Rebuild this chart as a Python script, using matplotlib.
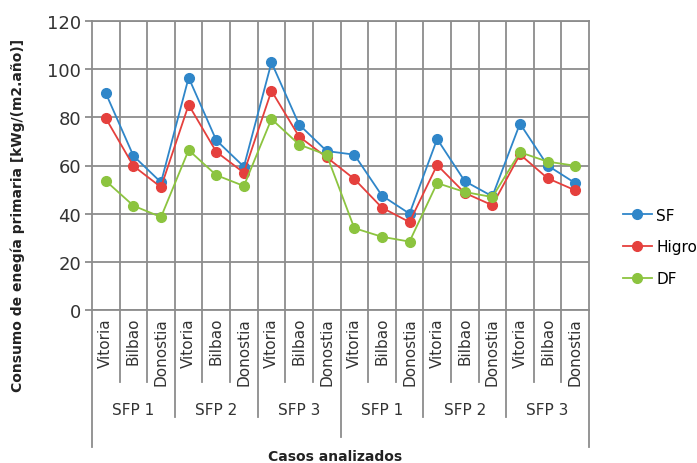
import matplotlib.pyplot as plt
from matplotlib.lines import Line2D

# DATA
cities = ['Vitoria', 'Bilbao', 'Donostia'] * 6
groups = ['SFP 1', 'SFP 2', 'SFP 3', 'SFP 1', 'SFP 2', 'SFP 3']

sf = [90, 64, 53, 96.5, 70.5, 59.5, 102.8, 77, 66,
      64.5, 47.5, 40, 71, 53.5, 47.2, 77.4, 60, 52.7]
higro = [79.6, 59.8, 51, 85.2, 65.7, 57, 91, 72, 63.4,
         54.4, 42.5, 36.5, 60.2, 48.6, 43.5, 64.6, 54.7, 49.7]
df = [53.6, 43.3, 38.6, 66.4, 56, 51.5, 79.3, 68.7, 64.4,
      34, 30.4, 28.4, 52.7, 49, 46.9, 65.5, 61.6, 59.9]

series = {'SF': (sf, '#2f86c9'), 'Higro': (higro, '#e5403d'), 'DF': (df, '#8cc43f')}

GRID = '#8c8c8c'
FONT = 'DejaVu Sans'
plt.rcParams['font.family'] = FONT

fig = plt.figure(figsize=(6.97, 4.64), dpi=100)
ax = fig.add_axes([92 / 697, 1 - 311 / 464, (589 - 92) / 697, (311 - 22) / 464])

n = len(cities)
x = [i + 0.5 for i in range(n)]
for name, (vals, col) in series.items():
    ax.plot(x, vals, color=col, lw=1.3, marker='o', ms=7, label=name, zorder=3)

ax.set_xlim(0, n)
ax.set_ylim(0, 120)
ax.set_yticks(range(0, 121, 20))
ax.tick_params(axis='y', length=5, color=GRID, width=1.3, labelsize=13, pad=3, labelcolor='#333333')
ax.set_xticks([])
ax.grid(axis='y', color=GRID, lw=1.3)
for b in range(1, n):
    ax.axvline(b, color=GRID, lw=1.3, zorder=1)
for s in ax.spines.values():
    s.set_color(GRID)
    s.set_linewidth(1.3)

# multi-level category axis
tr = ax.get_xaxis_transform()
for b in range(n + 1):
    if b in (0, n):
        yb = -0.474
    elif b == 9:
        yb = -0.44
    elif b % 3 == 0:
        yb = -0.37
    else:
        yb = -0.249
    ax.add_line(Line2D([b, b], [0, yb], transform=tr, color=GRID, lw=1.3, clip_on=False))

for i, c in enumerate(cities):
    ax.text(i + 0.5, -0.024, c, transform=tr, rotation=90, ha='center', va='top',
            fontsize=11, color='#333333')
for j, g in enumerate(groups):
    ax.text(3 * j + 1.5, -0.346, g, transform=tr, ha='center', va='center',
            fontsize=11, color='#333333')

ax.text(0.49, -0.505, 'Casos analizados', transform=ax.transAxes, ha='center', va='center',
        fontsize=10, fontweight='bold', color='#222222')
fig.text(18 / 697, 1 - 215 / 464, 'Consumo de enegía primaria [kWg/(m2.año)]', rotation=90,
         ha='center', va='center', fontsize=10, fontweight='bold', color='#222222')

ax.legend(loc='center left', bbox_to_anchor=(1.04, 0.218), frameon=False, fontsize=11,
          handlelength=1.9, labelspacing=1.1, handletextpad=0.3)

fig.savefig('out.png', dpi=100)
